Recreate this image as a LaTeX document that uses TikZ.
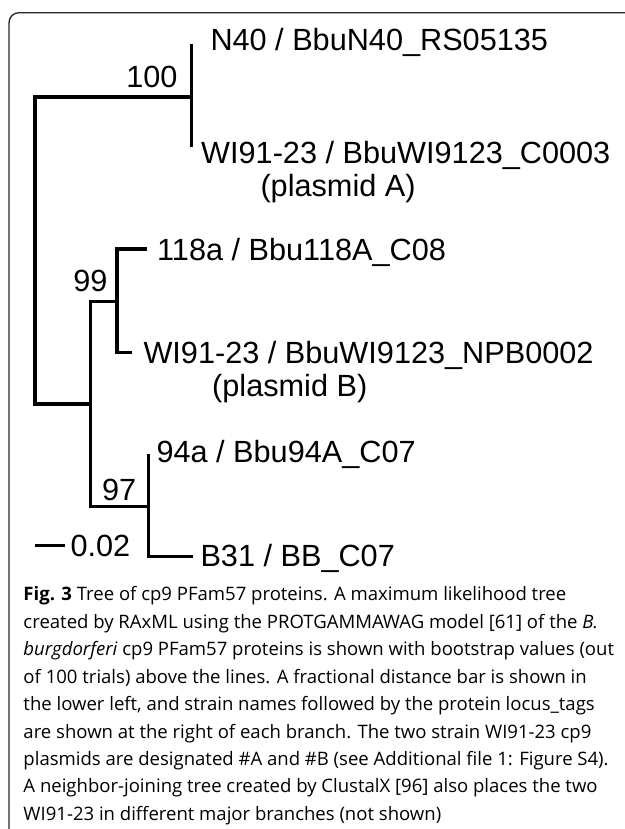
\documentclass[tikz,border=0pt]{standalone}
\usepackage{fontspec}
\setmainfont{Liberation Sans}
\newfontfamily\capfont{Open Sans}
\usetikzlibrary{positioning,calc}
\tikzset{every picture/.style={line width=0.75pt}}
\tikzset{
  branch/.style={line width=2.6pt, line join=miter},
  leaf/.style={anchor=base west, inner sep=0pt, font=\fontsize{23}{27}\selectfont},
  boot/.style={anchor=base east, inner sep=0pt, font=\fontsize{23}{27}\selectfont},
}

\begin{document}
\begin{tikzpicture}[x=0.75pt, y=-0.75pt]
    \useasboundingbox (0,0) rectangle (625,829);

    % rahmen der abbildung
    \draw[line width=1pt, black!85, rounded corners=7.5pt] (9,829) |- (625,12.7);

    % innere knoten und blattenden
    \coordinate (root) at (35,250);
    \coordinate (n100) at (191.7,97);
    \coordinate (nin) at (90.7,404);
    \coordinate (n99) at (117,301.7);
    \coordinate (n97) at (148.3,506.7);
    \coordinate (tN40) at (191.7,44);
    \coordinate (tWIa) at (191.7,147);
    \coordinate (t118) at (146.7,249);
    \coordinate (tWIb) at (131.7,352.7);
    \coordinate (t94) at (148.3,454);
    \coordinate (tB31) at (192.7,556.7);

    % aeste des baums
    \draw[branch] (n100) -| (root) |- (nin);
    \draw[branch] (tN40) -- (tWIa);
    \draw[branch] (n99) -| (nin) |- (n97);
    \draw[branch] (t118) -| (n99) |- (tWIb);
    \draw[branch] (t94) -- (n97) |- (tB31);

    % namen der staemme
    \node[leaf] (lN40) at (210,50.7) {N40 / BbuN40\_RS05135};
    \node[leaf] (lWIa) at (200.7,163.3) {WI91-23 / BbuWI9123\_C0003};
    \node[leaf] (lpA) at (260,196.7) {(plasmid A)};
    \node[leaf] (l118) at (156.7,260) {118a / Bbu118A\_C08};
    \node[leaf] (lWIb) at (143,363) {WI91-23 / BbuWI9123\_NPB0002};
    \node[leaf] (lpB) at (211.7,396) {(plasmid B)};
    \node[leaf] (l94) at (156,462.5) {94a / Bbu94A\_C07};
    \node[leaf] (lB31) at (200,566.7) {B31 / BB\_C07};

    % bootstrap werte
    \node[boot] (b100) at (178,87) {100};
    \node[boot] (b99) at (108,291.7) {99};
    \node[boot] (b97) at (136.7,500) {97};

    % massstab
    \coordinate (sL) at (35,545.7);
    \coordinate (sR) at (65,545.7);
    \draw[branch] (sL) -- (sR);
    \node[leaf] (sc) at (70,556.7) {0.02};

    % bildunterschrift
    \node[anchor=north west, inner sep=0pt, align=left,
          font=\capfont\fontsize{13.9}{20.6}\selectfont] (cap) at (23,586)
    {\textbf{Fig. 3} Tree of cp9 PFam57 proteins. A maximum likelihood tree\\
     created by RAxML using the PROTGAMMAWAG model [61] of the \textit{B.}\\
     \textit{burgdorferi} cp9 PFam57 proteins is shown with bootstrap values (out\\
     of 100 trials) above the lines. A fractional distance bar is shown in\\
     the lower left, and strain names followed by the protein locus\_tags\\
     are shown at the right of each branch. The two strain WI91-23 cp9\\
     plasmids are designated \#A and \#B (see Additional file 1: Figure S4).\\
     A neighbor-joining tree created by ClustalX [96] also places the two\\
     WI91-23 in different major branches (not shown)};
\end{tikzpicture}
\end{document}
